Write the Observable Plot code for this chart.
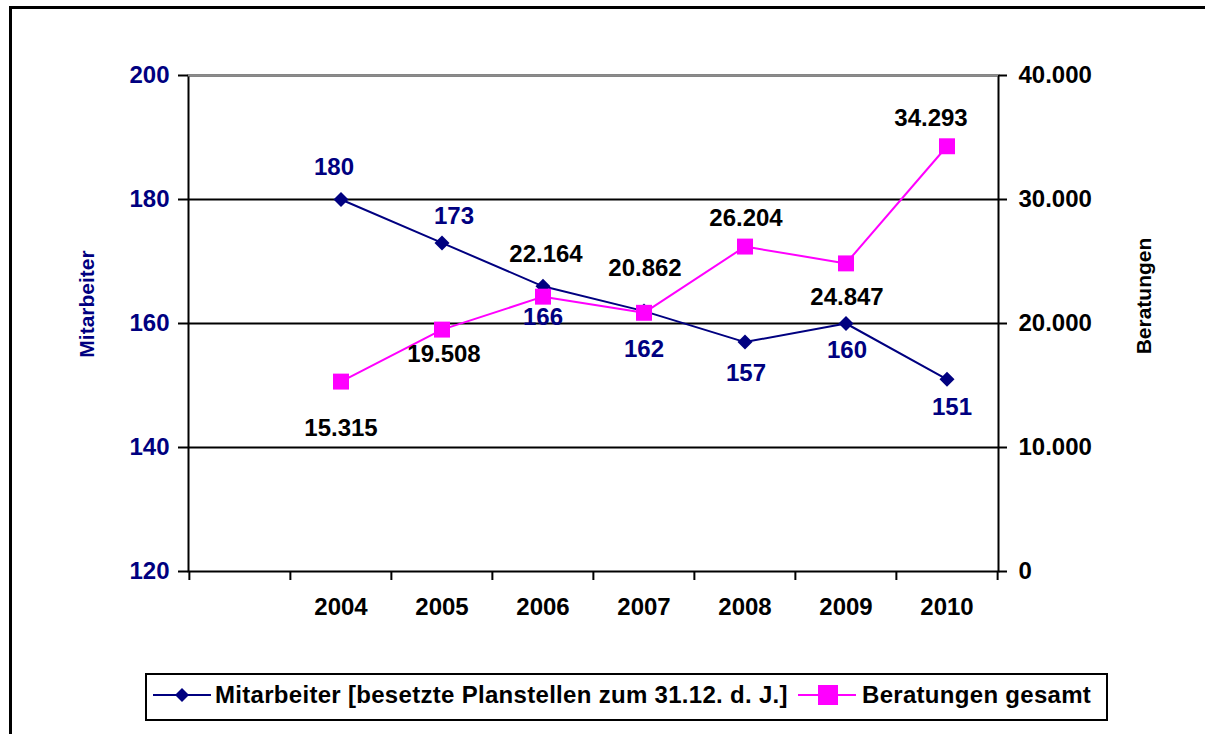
<!DOCTYPE html>
<html>
<head>
<meta charset="utf-8">
<script src="https://cdn.jsdelivr.net/npm/d3@7"></script>
<script src="https://cdn.jsdelivr.net/npm/@observablehq/plot@0.6"></script>
<style>
  html, body { margin: 0; padding: 0; overflow: hidden; background: #fff; font-family: "Liberation Sans", Arial, sans-serif; font-weight: bold; }
  #wrap { position: relative; width: 1205px; height: 734px; overflow: hidden; background: #fff; }
  #ftop { position: absolute; left: 9px; top: 6px; width: 1196px; height: 3px; background: #000; }
  #fleft { position: absolute; left: 9px; top: 6px; width: 3px; height: 728px; background: #000; }
  #chart { position: absolute; left: 0; top: 0; }
  .atitle { position: absolute; font-size: 21px; white-space: nowrap; transform: translate(-50%, -50%) rotate(-90deg); line-height: 1; }
  #legend { position: absolute; left: 145px; top: 673px; width: 959px; height: 44px; border: 2px solid #000; background: #fff; }
  #legend .sw { position: absolute; top: 10px; }
  #legend .lt { position: absolute; top: 8px; font-size: 24px; line-height: 24px; white-space: nowrap; color: #000; letter-spacing: 0.3px; }
</style>
</head>
<body>
<div id="wrap">
  <div id="ftop"></div>
  <div id="fleft"></div>
  <div id="chart"></div>
  <div class="atitle" id="tl" style="left:86px;top:304px;color:#000080;"></div>
  <div class="atitle" id="tr" style="left:1143px;top:296px;color:#000;"></div>
  <div id="legend"></div>
</div>
<script>
// ---- data ----
const categories = ["", "2004", "2005", "2006", "2007", "2008", "2009", "2010"];
const years = ["2004", "2005", "2006", "2007", "2008", "2009", "2010"];
const mitarbeiter = [180, 173, 166, 162, 157, 160, 151];
const beratungen = [15315, 19508, 22164, 20862, 26204, 24847, 34293];
const leftTicks = [120, 140, 160, 180, 200];
const rightTicks = [0, 10000, 20000, 30000, 40000];
const seriesNames = ["Mitarbeiter [besetzte Planstellen zum 31.12. d. J.]", "Beratungen gesamt"];
const axisTitles = ["Mitarbeiter", "Beratungen"];
// label offsets (style, not data)
const mOffsets = [[-7, -32], [12, -27], [0, 31], [0, 38], [1, 31], [1, 27], [5, 28]];
const bOffsets = [[0, 47], [2, 25], [3, -42], [1, -44], [1, -28], [1, 34], [-16, -28]];

// ---- setup ----
const NAVY = "#000080", MAG = "#FF00FF";
const de = d3.formatLocale({decimal: ",", thousands: ".", grouping: [3], currency: ["", " €"]});
const fmt = de.format(",d");
const leftDomain = [120, 200];
const rightDomain = [0, 40000];
const toLeft = v => leftDomain[0] + (v - rightDomain[0]) / (rightDomain[1] - rightDomain[0]) * (leftDomain[1] - leftDomain[0]);
const fromLeft = v => rightDomain[0] + (v - leftDomain[0]) / (leftDomain[1] - leftDomain[0]) * (rightDomain[1] - rightDomain[0]);

const rows = years.map((year, i) => ({year, m: mitarbeiter[i], b: toLeft(beratungen[i]), braw: beratungen[i]}));

const W = 1205, H = 734, ML = 188, MR = 207, MT = 75, MB = 163;
const bw = (W - ML - MR) / categories.length;

const diamond = {draw(ctx, size) { const h = Math.sqrt(size / 2); ctx.moveTo(0, -h); ctx.lineTo(h, 0); ctx.lineTo(0, h); ctx.lineTo(-h, 0); ctx.closePath(); }};

const marks = [
  Plot.ruleY([140, 160, 180], {stroke: "#000", strokeWidth: 2}),
  Plot.frame({stroke: "#000", strokeWidth: 2}),
  Plot.ruleY([200], {stroke: "#8c8c8c", strokeWidth: 2}),
  // left axis
  Plot.axisY({anchor: "left", label: null, ticks: leftTicks, tickSize: 10, strokeWidth: 2, stroke: "#000", tickFormat: () => ""}),
  Plot.axisY({anchor: "left", label: null, ticks: leftTicks, tickSize: 0, tickPadding: 19, color: NAVY, fontSize: 24, fontWeight: "bold"}),
  // right axis (Beratungen)
  Plot.axisY({anchor: "right", label: null, ticks: leftTicks, tickSize: 8, strokeWidth: 2, stroke: "#000", tickFormat: () => ""}),
  Plot.axisY({anchor: "right", label: null, ticks: rightTicks.map(toLeft), tickSize: 0, tickPadding: 20, color: "#000", fontSize: 24, fontWeight: "bold", tickFormat: v => fmt(Math.round(fromLeft(v)))}),
  // x axis: boundary ticks + centered labels
  Plot.axisX({anchor: "bottom", label: null, tickSize: 9, strokeWidth: 2, stroke: "#000", dx: -bw / 2, tickFormat: () => ""}),
  Plot.axisX({anchor: "bottom", label: null, ticks: [categories[categories.length - 1]], tickSize: 9, strokeWidth: 2, stroke: "#000", dx: bw / 2, tickFormat: () => ""}),
  Plot.axisX({anchor: "bottom", label: null, ticks: years, tickSize: 0, tickPadding: 26, color: "#000", fontSize: 24, fontWeight: "bold"}),
  // series
  Plot.line(rows, {x: "year", y: "m", stroke: NAVY, strokeWidth: 2}),
  Plot.dot(rows, {x: "year", y: "m", symbol: diamond, r: 6, fill: NAVY, stroke: "none"}),
  Plot.line(rows, {x: "year", y: "b", stroke: MAG, strokeWidth: 2}),
  Plot.dot(rows, {x: "year", y: "b", symbol: "square", r: 9, fill: MAG, stroke: "none"})
];
rows.forEach((d, i) => {
  marks.push(Plot.text([d], {x: "year", y: "m", text: dd => String(dd.m), dx: mOffsets[i][0], dy: mOffsets[i][1], fill: NAVY, fontSize: 24, fontWeight: "bold"}));
  marks.push(Plot.text([d], {x: "year", y: "b", text: dd => fmt(dd.braw), dx: bOffsets[i][0], dy: bOffsets[i][1], fill: "#000", fontSize: 24, fontWeight: "bold"}));
});

const chart = Plot.plot({
  width: W, height: H,
  marginLeft: ML, marginRight: MR, marginTop: MT, marginBottom: MB,
  x: {type: "band", domain: categories, padding: 0, label: null},
  y: {domain: leftDomain, label: null},
  style: {fontFamily: "'Liberation Sans', Arial, sans-serif", fontWeight: "bold", fontSize: "24px", background: "transparent", overflow: "visible"},
  marks
});
document.getElementById("chart").appendChild(chart);

document.getElementById("tl").textContent = axisTitles[0];
document.getElementById("tr").textContent = axisTitles[1];

// legend
const legend = document.getElementById("legend");
function swatch(color, kind) {
  const svg = d3.create("svg").attr("width", 58).attr("height", 20).attr("class", "sw");
  svg.append("line").attr("x1", 0).attr("x2", 58).attr("y1", 10).attr("y2", 10).attr("stroke", color).attr("stroke-width", 2);
  if (kind === "diamond") svg.append("path").attr("d", "M29,3L36,10L29,17L22,10Z").attr("fill", color);
  else svg.append("rect").attr("x", 20).attr("y", 0).attr("width", 20).attr("height", 20).attr("fill", color);
  return svg.node();
}
const s1 = swatch(NAVY, "diamond"); s1.style.left = "6px"; legend.appendChild(s1);
const t1 = document.createElement("div"); t1.className = "lt"; t1.style.left = "68px"; t1.textContent = seriesNames[0]; legend.appendChild(t1);
const s2 = swatch(MAG, "square"); s2.style.left = "651px"; legend.appendChild(s2);
const t2 = document.createElement("div"); t2.className = "lt"; t2.style.left = "715px"; t2.textContent = seriesNames[1]; legend.appendChild(t2);
</script>
</body>
</html>
